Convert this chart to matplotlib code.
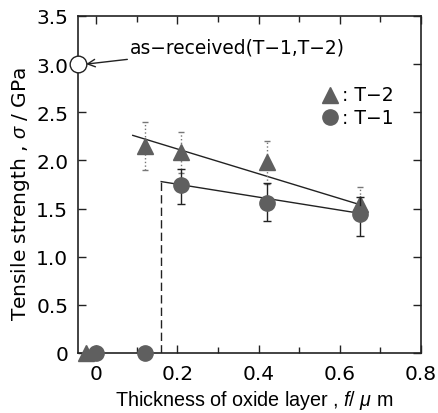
import matplotlib
matplotlib.use("Agg")
import matplotlib.pyplot as plt
from matplotlib.ticker import MultipleLocator

plt.rcParams['font.family'] = ['DejaVu Sans']
plt.rcParams['mathtext.fontset'] = 'custom'
plt.rcParams['mathtext.it'] = 'Liberation Sans:italic'
plt.rcParams['mathtext.rm'] = 'Liberation Sans'

# T-2 data
t2_x = [0.12, 0.21, 0.42, 0.65]
t2_y = [2.15, 2.09, 1.98, 1.55]
t2_lo = [1.90, 1.87, 1.75, 1.50]
t2_hi = [2.40, 2.30, 2.20, 1.72]
t2_zero_x = [-0.025]
t2_zero_y = [0.0]
# T-1 data
t1_x = [0.21, 0.42, 0.65]
t1_y = [1.74, 1.56, 1.44]
t1_lo = [1.55, 1.37, 1.22]
t1_hi = [1.91, 1.77, 1.62]
t1_zero_x = [0.0, 0.12]
t1_zero_y = [0.0, 0.0]
# fit lines
t2_fit_x = [0.09, 0.65]
t2_fit_y = [2.26, 1.54]
t1_fit_x = [0.16, 0.65]
t1_fit_y = [1.78, 1.45]
crit_x = 0.16
asrec_x = -0.045
asrec_y = 3.0

gray = '#5f5f5f'

fig = plt.figure(figsize=(4.38, 4.14), dpi=100)
ax = fig.add_axes([0.178, 0.145, 0.783, 0.814])

ax.plot(t2_fit_x, t2_fit_y, color='#222222', lw=1.0, zorder=2)
ax.plot(t1_fit_x, t1_fit_y, color='#222222', lw=1.0, zorder=2)
ax.plot([crit_x, crit_x], [0, t1_fit_y[0]], color='#222222', lw=1.0, ls=(0, (6, 3)), zorder=2)

t2_err = [[y - l for y, l in zip(t2_y, t2_lo)], [h - y for y, h in zip(t2_y, t2_hi)]]
t1_err = [[y - l for y, l in zip(t1_y, t1_lo)], [h - y for y, h in zip(t1_y, t1_hi)]]

eb = ax.errorbar(t2_x, t2_y, yerr=t2_err, fmt='^', ms=11, color=gray, mec=gray,
                 ecolor='#777777', elinewidth=1.0, capsize=2.5, capthick=1.0, zorder=3)
for c in eb[2]:
    c.set_linestyle(':')
ax.errorbar(t1_x, t1_y, yerr=t1_err, fmt='o', ms=11, color=gray, mec=gray,
            ecolor='#222222', elinewidth=1.0, capsize=3, capthick=1.0, zorder=4)
ax.plot(t2_zero_x, t2_zero_y, '^', ms=11, color=gray, clip_on=False, zorder=5)
ax.plot(t1_zero_x, t1_zero_y, 'o', ms=11, color=gray, clip_on=False, zorder=6)

ax.plot([asrec_x], [asrec_y], 'o', ms=12, mfc='white', mec='#222222', mew=1.0, clip_on=False, zorder=7)
ax.annotate('as\u2212received(T\u22121,T\u22122)', xy=(-0.025, 3.0), xytext=(0.082, 3.18),
            fontsize=13.4, va='center', ha='left',
            arrowprops=dict(arrowstyle='->', color='#222222', lw=1.0, shrinkA=2, shrinkB=0))

# legend
ax.plot([0.575], [2.68], '^', ms=11, color=gray)
ax.text(0.605, 2.68, ': T\u22122', fontsize=13.5, va='center', ha='left')
ax.plot([0.575], [2.45], 'o', ms=11, color=gray)
ax.text(0.605, 2.45, ': T\u22121', fontsize=13.5, va='center', ha='left')

ax.set_xlim(-0.045, 0.8)
ax.set_ylim(0, 3.5)
ax.xaxis.set_minor_locator(MultipleLocator(0.1))
ax.set_xticks([0, 0.2, 0.4, 0.6, 0.8])
ax.set_xticklabels(['0', '0.2', '0.4', '0.6', '0.8'])
ax.set_yticks([0, 0.5, 1.0, 1.5, 2.0, 2.5, 3.0, 3.5])
ax.set_yticklabels(['0', '0.5', '1.0', '1.5', '2.0', '2.5', '3.0', '3.5'])
ax.tick_params(which='both', direction='in', top=True, right=True, labelsize=14.5, width=1.0, color='#222222')
ax.tick_params(which='major', length=6)
ax.tick_params(axis='x', which='major', pad=8)
ax.tick_params(axis='y', which='major', pad=7)
ax.tick_params(which='minor', length=4)
for s in ax.spines.values():
    s.set_linewidth(1.2)
    s.set_color('#222222')

ax.set_ylabel(r'Tensile strength , $\mathit{\sigma}$ / GPa', fontsize=14.5, family='DejaVu Sans')
ax.yaxis.set_label_coords(-0.135, 0.475)
ax.set_xlabel(r'Thickness of oxide layer , $\mathit{f}$/ $\mathit{\mu}$ m', fontsize=14.2, family='Liberation Sans')
ax.xaxis.set_label_coords(0.515, -0.105)

fig.savefig('out.png', dpi=100)
